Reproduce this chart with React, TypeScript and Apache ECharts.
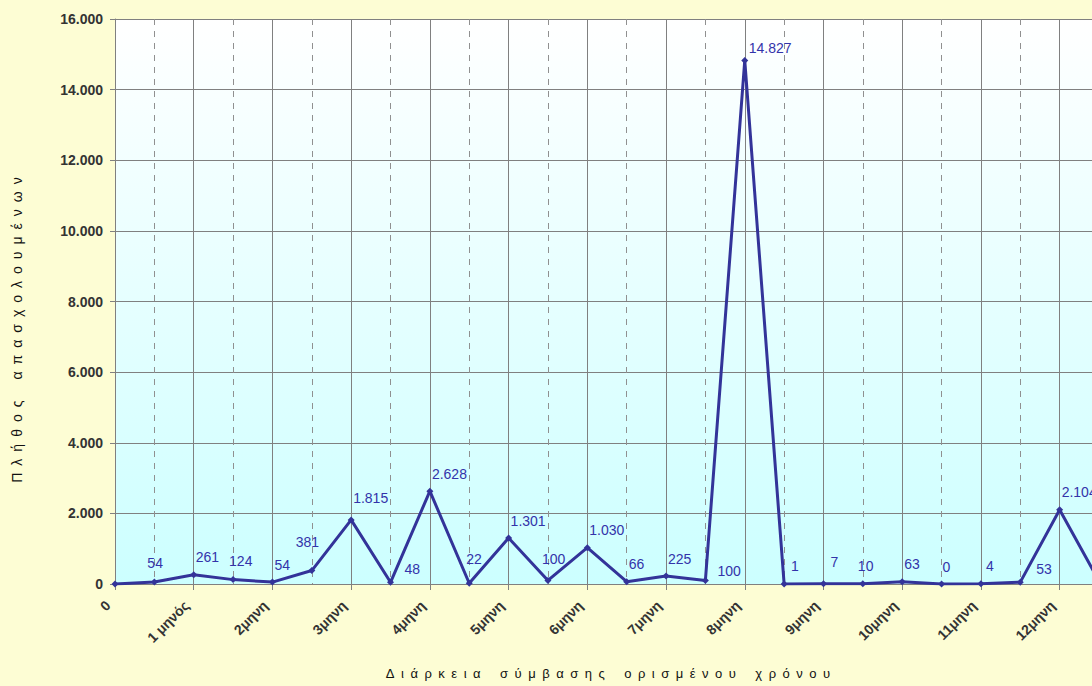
import React, { useEffect, useRef } from "react";
import * as echarts from "echarts";

const categories: string[] = [
  "0", "", "1 μηνός", "", "2μηνη", "", "3μηνη", "", "4μηνη", "", "5μηνη", "",
  "6μηνη", "", "7μηνη", "", "8μηνη", "", "9μηνη", "", "10μηνη", "", "11μηνη", "",
  "12μηνη", "",
];
const employees: number[] = [
  0, 54, 261, 124, 54, 381, 1815, 48, 2628, 22, 1301, 100,
  1030, 66, 225, 100, 14827, 1, 7, 10, 63, 0, 4, 53,
  2104, 80,
];
const yTicks = { min: 0, max: 16000, interval: 2000 };
const yTitle = "Πλήθος απασχολουμένων";
const xTitle = "Διάρκεια σύμβασης ορισμένου χρόνου";

// label placement tweaks (style only), by point index
const labelNudge: Record<number, [number, number]> = {
  1: [-9, -2],
  3: [-6, -1],
  5: [-18, -11],
  6: [0, -4],
  7: [12, 4],
  9: [-5, -7],
  11: [-8, -4],
  15: [10, 8],
  16: [2, 5],
  17: [5, 0],
  18: [5, -4],
  19: [-7, 0],
  21: [-1, 0],
  22: [3, 0],
  23: [14, 4],
};

const fmt = (v: number) => String(v).replace(/\B(?=(\d{3})+(?!\d))/g, ".");
const spaced = (s: string) =>
  s.split(" ").map((w) => w.split("").join("\u2002")).join("\u2002\u2002\u2002");

const FONT = "'Liberation Sans', Arial, sans-serif";

export default function App() {
  const ref = useRef<HTMLDivElement>(null);
  useEffect(() => {
    if (!ref.current) return;
    const chart = echarts.init(ref.current, undefined, { renderer: "svg" });
    const lastIdx = employees.length - 1;
    const seriesData = employees.map((v, i) => {
      const n = labelNudge[i];
      return n ? { value: v, label: { offset: [2 + n[0], n[1]] } } : v;
    });
    const option: any = {
      animation: false,
      backgroundColor: "#FDFDD4",
      textStyle: { fontFamily: FONT },
      grid: {
        left: 115,
        top: 19,
        width: 984,
        height: 565,
        containLabel: false,
        outerBoundsMode: "none",
        show: true,
        borderWidth: 0,
        backgroundColor: new echarts.graphic.LinearGradient(0, 0, 0, 1, [
          { offset: 0, color: "#FFFFFF" },
          { offset: 1, color: "#CCFFFF" },
        ]),
      },
      xAxis: [
        {
          type: "category",
          data: categories,
          boundaryGap: false,
          position: "bottom",
          axisLine: { show: true, lineStyle: { color: "#808080", width: 1 } },
          axisTick: {
            show: true,
            length: 6,
            interval: (i: number) => i % 2 === 0,
            lineStyle: { color: "#808080" },
          },
          axisLabel: {
            interval: 0,
            rotate: 45,
            margin: 12,
            padding: [0, 10, 0, 0],
            fontFamily: FONT,
            fontSize: 14,
            fontWeight: "bold",
            color: "#333333",
          },
          splitLine: {
            show: true,
            interval: (i: number) => i % 2 === 0,
            lineStyle: { color: "#808080", width: 1, type: "solid" },
          },
        },
        {
          type: "category",
          data: categories,
          boundaryGap: false,
          position: "top",
          axisLine: { show: false },
          axisTick: { show: false },
          axisLabel: { show: false },
          splitLine: {
            show: true,
            interval: (i: number) => i % 2 === 1,
            lineStyle: { color: "#909090", width: 1, type: [6, 6] },
          },
        },
      ],
      yAxis: {
        type: "value",
        min: yTicks.min,
        max: yTicks.max,
        interval: yTicks.interval,
        axisLine: { show: true, lineStyle: { color: "#808080", width: 1 } },
        axisTick: { show: true, length: 5, lineStyle: { color: "#808080" } },
        axisLabel: {
          margin: 12,
          fontFamily: FONT,
          fontSize: 14,
          fontWeight: "bold",
          color: "#333333",
          formatter: (v: number) => fmt(v),
        },
        splitLine: { show: true, lineStyle: { color: "#808080", width: 1 } },
      },
      series: [
        {
          type: "line",
          xAxisIndex: 0,
          data: seriesData,
          symbol: "diamond",
          symbolSize: 7,
          itemStyle: { color: "#333399" },
          lineStyle: { color: "#333399", width: 3 },
          label: {
            show: true,
            position: "top",
            distance: 7,
            align: "left",
            offset: [2, 0],
            fontFamily: FONT,
            fontSize: 14,
            color: "#3333AA",
            formatter: (p: any) =>
              p.dataIndex === 0 || p.dataIndex === lastIdx ? "" : fmt(p.value),
          },
        },
      ],
      graphic: [
        {
          type: "text",
          x: 17,
          y: 330,
          rotation: Math.PI / 2,
          style: {
            text: spaced(yTitle),
            fontFamily: FONT,
            fontSize: 14,
            fill: "#111111",
            textAlign: "center",
            textVerticalAlign: "middle",
          },
        },
        {
          type: "text",
          x: 608,
          y: 673,
          style: {
            text: spaced(xTitle),
            fontFamily: FONT,
            fontSize: 13,
            fill: "#111111",
            textAlign: "center",
            textVerticalAlign: "middle",
          },
        },
      ],
    };
    chart.setOption(option);
    return () => chart.dispose();
  }, []);
  return (
    <div
      ref={ref}
      style={{ position: "fixed", left: 0, top: 0, width: 1092, height: 686 }}
    />
  );
}
